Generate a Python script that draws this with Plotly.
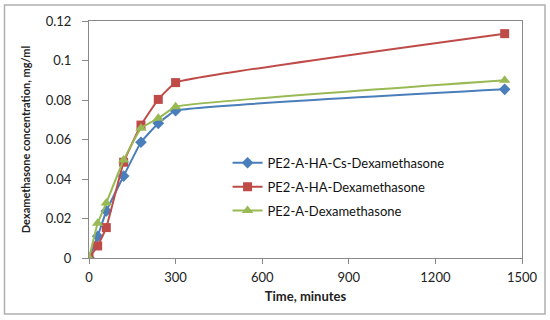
import plotly.graph_objects as go

time_min = [0, 30, 60, 120, 180, 240, 300, 1440]
pe2_a_ha_cs = [0, 0.011, 0.0238, 0.0415, 0.0586, 0.0682, 0.0746, 0.0854]
pe2_a_ha = [0, 0.0061, 0.0154, 0.0485, 0.0673, 0.0803, 0.0888, 0.1136]
pe2_a = [0, 0.0176, 0.0279, 0.0496, 0.0657, 0.0707, 0.0766, 0.0900]

names = ["PE2-A-HA-Cs-Dexamethasone", "PE2-A-HA-Dexamethasone", "PE2-A-Dexamethasone"]
series = [pe2_a_ha_cs, pe2_a_ha, pe2_a]
colors = ["#4A7EBB", "#BE4B48", "#98B954"]
symbols = ["diamond", "square", "triangle-up"]
sizes = [9, 9, 10]

fig = go.Figure()
for i, (n, s, c, sym, sz) in enumerate(zip(names, series, colors, symbols, sizes)):
    fig.add_trace(go.Scatter(
        x=time_min, y=s, name=n, mode="lines+markers", legendgroup=f"g{i}",
        line=dict(color=c, width=2, shape="spline", smoothing=0.3),
        marker=dict(symbol=sym, size=sz, color=c),
    ))

L, R, T, B = 89, 28, 21, 62
W, H = 550, 320
pw, ph = W - L - R, H - T - B

fig.update_layout(
    width=W, height=H,
    margin=dict(l=L, r=R, t=T, b=B, pad=0),
    paper_bgcolor="white", plot_bgcolor="white",
    font=dict(family="Lato, 'Open Sans', sans-serif", size=13, color="#222"),
    showlegend=True,
    legend=dict(x=0.32, y=0.465, xanchor="left", yanchor="top",
                bgcolor="rgba(0,0,0,0)", font=dict(size=13, color="#111"),
                tracegroupgap=4, itemwidth=30),
    xaxis=dict(range=[0, 1500], tickvals=[0, 300, 600, 900, 1200, 1500],
               showline=True, linecolor="#898989", linewidth=1, mirror=True,
               ticks="outside", ticklen=5, tickcolor="#898989", showgrid=False,
               zeroline=False, ticklabelstandoff=2,
               title=dict(text="<b>Time, minutes</b>", font=dict(size=13), standoff=8)),
    yaxis=dict(range=[0, 0.12], tickvals=[0, 0.02, 0.04, 0.06, 0.08, 0.1, 0.12],
               ticktext=["0", "0.02", "0.04", "0.06", "0.08", "0.1", "0.12"],
               showline=True, linecolor="#898989", linewidth=1, mirror=True,
               ticks="outside", ticklen=6, tickcolor="#898989", showgrid=False,
               zeroline=False, ticklabelstandoff=8,
               title=dict(text="<b>Dexamethasone concentration, mg/ml</b>", font=dict(size=11), standoff=12)),
    shapes=[dict(type="rect", xref="paper", yref="paper",
                 x0=(4.5 - L) / pw, x1=(545 - L) / pw,
                 y0=(H - B - 314) / ph, y1=(H - B - 5) / ph,
                 line=dict(color="#B0B0B0", width=1.5), layer="below")],
)

fig.write_html("out.html", config={"displayModeBar": False},
               post_script="document.body.style.margin='0';")
